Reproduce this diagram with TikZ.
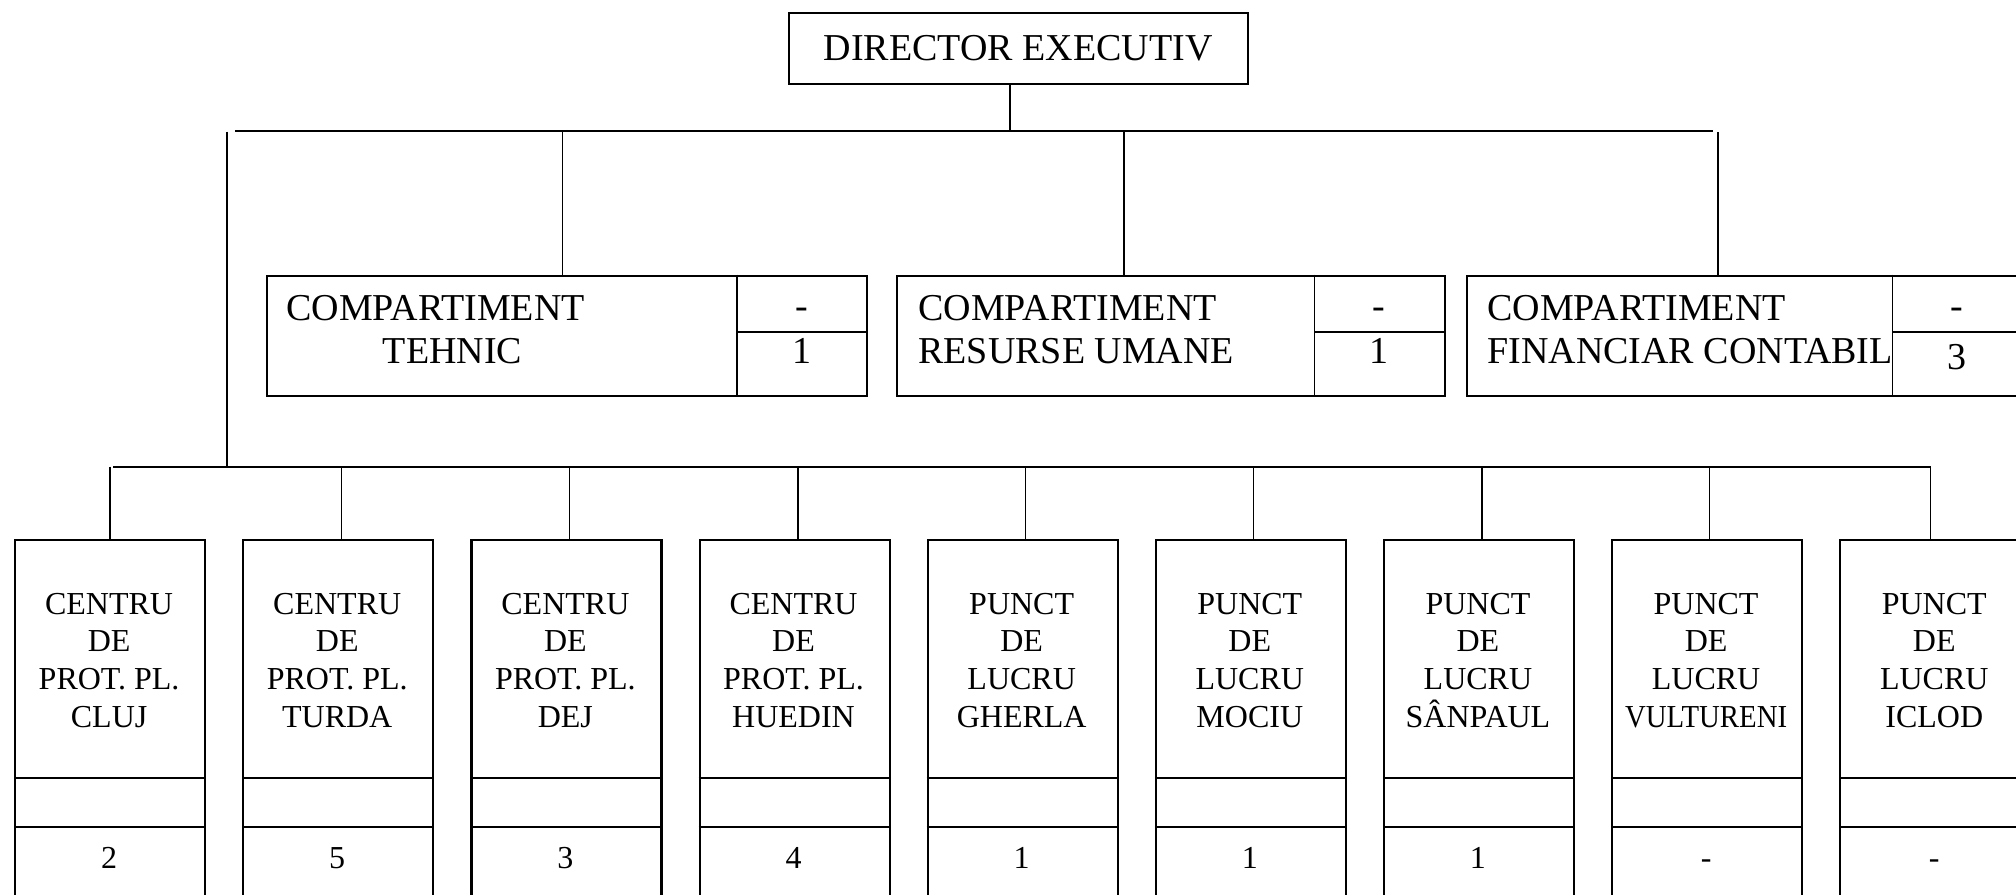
\documentclass[tikz,border=0pt]{standalone}
\usepackage{fontspec}
\setmainfont{Liberation Serif}
\begin{document}
\begin{tikzpicture}[x=0.5pt,y=-0.5pt,
  box/.style={draw,line width=1.1pt,inner sep=0pt,anchor=north west},
  boxline/.style={line width=1.1pt},
  divline/.style={line width=0.8pt},
  conn/.style={line width=0.7pt},
  bus/.style={line width=1pt},
  big/.style={font=\fontsize{19}{21.5}\selectfont,inner sep=0pt},
  small/.style={font=\fontsize{16}{18.8}\selectfont,inner sep=0pt},
]
\useasboundingbox (0,0) rectangle (2016,894);

% director
\node[box,minimum width=229.5pt,minimum height=35.35pt,big] (dir) at (787.5,12) {DIRECTOR EXECUTIV};

% top bus
\coordinate (tbL) at (235,130.7);
\coordinate (tbR) at (1713,130.7);
\coordinate (dd) at (1010,130.7);
\draw[bus] (tbL) -- (tbR);
\draw[conn] (dd |- dir.south) -- (dd);

% compartments
\node[box,minimum width=300.25pt,minimum height=60.15pt] (teh) at (265.5,274.7) {};
\node[box,minimum width=274.25pt,minimum height=60.15pt] (res) at (895.5,274.7) {};
\node[box,minimum width=277.75pt,minimum height=60.15pt] (fin) at (1466,274.7) {};
\draw[divline] (737,274.7) -- (737,395) (737,331.7) -- (866,331.7);
\draw[divline] (1314.6,274.7) -- (1314.6,395) (1314.6,331.7) -- (1444,331.7);
\draw[divline] (1892.5,274.7) -- (1892.5,395) (1892.5,331.7) -- (2021.5,331.7);

\node[big,anchor=base west] (tehA) at (286,320) {COMPARTIMENT};
\node[big,anchor=base west] (tehB) at (382.5,363) {TEHNIC};
\node[big,anchor=base west] (resA) at (918,320) {COMPARTIMENT};
\node[big,anchor=base west] (resB) at (918,363) {RESURSE UMANE};
\node[big,anchor=base west] (finA) at (1487,320) {COMPARTIMENT};
\node[big,anchor=base west] (finB) at (1487,363) {FINANCIAR CONTABIL};

\node[big,anchor=base] (tehN1) at (801.5,318) {-};
\node[big,anchor=base] (tehN2) at (801.5,363) {1};
\node[big,anchor=base] (resN1) at (1379.3,318) {-};
\node[big,anchor=base] (resN2) at (1379.3,363) {1};
\node[big,anchor=base] (finN1) at (1957,318) {-};
\node[big,anchor=base] (finN2) at (1957,369) {3};

\coordinate (d1) at (562.5,130.7);
\coordinate (d2) at (1124,130.7);
\coordinate (d3) at (1718,132);
\draw[conn] (d1) -- (d1 |- teh.north);
\draw[conn] (d2) -- (d2 |- res.north);
\draw[conn] (d3) -- (d3 |- fin.north);

% left vertical and bottom bus
\coordinate (lvT) at (227,131.7);
\coordinate (lvB) at (227,466.7);
\draw[conn] (lvT) -- (lvB);
\coordinate (bbL) at (113,466.7);
\coordinate (bbR) at (1930.5,466.7);
\draw[bus] (bbL) -- (bbR);

% bottom boxes
\foreach \i/\t/\n/\d in {
  0/{CENTRU\\DE\\PROT. PL.\\CLUJ}/2/110,
  1/{CENTRU\\DE\\PROT. PL.\\TURDA}/5/341.4,
  2/{CENTRU\\DE\\PROT. PL.\\DEJ}/3/569.6,
  3/{CENTRU\\DE\\PROT. PL.\\HUEDIN}/4/797.8,
  4/{PUNCT\\DE\\LUCRU\\GHERLA}/1/1025.4,
  5/{PUNCT\\DE\\LUCRU\\MOCIU}/1/1253.6,
  6/{PUNCT\\DE\\LUCRU\\SÂNPAUL}/1/1481.8,
  7/{PUNCT\\DE\\LUCRU\\\scalebox{0.9}[1]{VULTURENI}}/-/1709.4,
  8/{PUNCT\\DE\\LUCRU\\ICLOD}/-/1930.5} {
  \pgfmathsetmacro\L{14.1+228.14*\i}
  \node[box,minimum width=95pt,minimum height=200pt] (b\i) at (\L,538.7) {};
  \draw[boxline] (\L,778) -- ++(190,0) (\L,826.7) -- ++(190,0);
  \node[small,align=center,anchor=base] (t\i) at (\L+95,727) {\t};
  \node[small,anchor=base] (n\i) at (\L+95,868) {\n};
  \coordinate (c\i) at (\d,466.7);
  \draw[conn] (c\i) -- (c\i |- b\i.north);
}
\end{tikzpicture}
\end{document}
